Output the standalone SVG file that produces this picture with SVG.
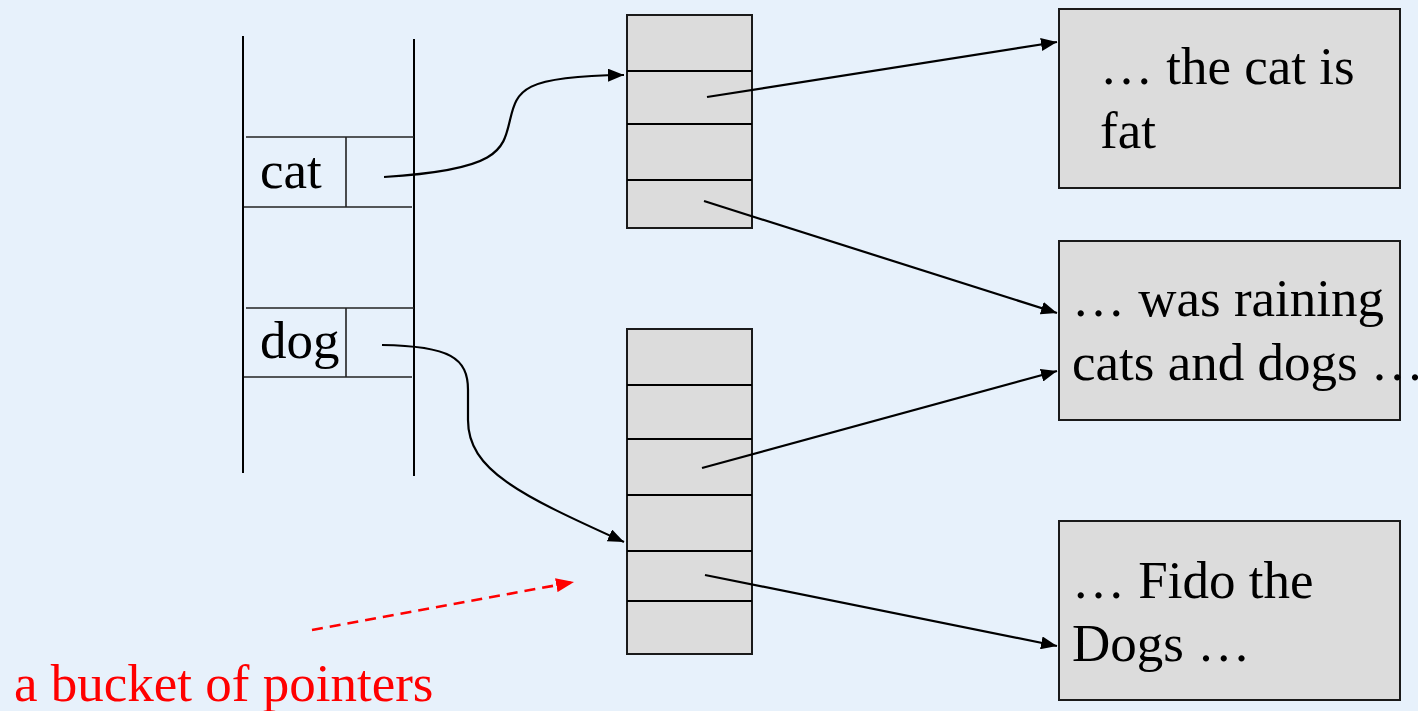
<svg xmlns="http://www.w3.org/2000/svg" width="1418" height="711" viewBox="0 0 1418 711">
<style>
.bg{fill:#E7F1FB}
.ln{stroke:#000;stroke-width:2;fill:none}
.thin{stroke:#222;stroke-width:1.6;fill:none}
.cell{fill:#DCDCDC;stroke:#1a1a1a;stroke-width:2}
.t{font-family:"Liberation Serif","Times New Roman",serif;font-size:53px;fill:#000}
.red{fill:#FF0000}
.conn{stroke:#000;stroke-width:2.2;fill:none;marker-end:url(#ah)}
.dash{stroke:#FF0000;stroke-width:2.6;fill:none;stroke-dasharray:11 7;marker-end:url(#ahr)}
</style>
<defs>
<marker id="ah" viewBox="0 0 16 13" refX="16" refY="6.5" markerWidth="16" markerHeight="13" markerUnits="userSpaceOnUse" orient="auto">
<path d="M0,0 L16,6.5 L0,13 Z" fill="#000"/>
</marker>
<marker id="ahr" viewBox="0 0 18 14" refX="18" refY="7" markerWidth="18" markerHeight="14" markerUnits="userSpaceOnUse" orient="auto">
<path d="M0,0 L18,7 L0,14 Z" fill="#FF0000"/>
</marker>
</defs>
<rect class="bg" x="0" y="0" width="1418" height="711"/>

<g id="hashtable">
<line class="ln" x1="243" y1="36" x2="243" y2="473"/>
<line class="ln" x1="414" y1="39" x2="414" y2="476"/>
<line class="thin" x1="246" y1="137" x2="414" y2="137"/>
<line class="thin" x1="244" y1="207" x2="412" y2="207"/>
<line class="thin" x1="346" y1="137" x2="346" y2="207"/>
<line class="thin" x1="246" y1="308" x2="414" y2="308"/>
<line class="thin" x1="244" y1="377" x2="412" y2="377"/>
<line class="thin" x1="346" y1="308" x2="346" y2="377"/>
<text class="t" x="260" y="188">cat</text>
<text class="t" x="260" y="358">dog</text>
</g>

<g id="bucket1">
<rect class="cell" x="627" y="15" width="125" height="213"/>
<line class="ln" x1="627" y1="71" x2="752" y2="71"/>
<line class="ln" x1="627" y1="124" x2="752" y2="124"/>
<line class="ln" x1="627" y1="180" x2="752" y2="180"/>
</g>

<g id="bucket2">
<rect class="cell" x="627" y="329" width="125" height="325"/>
<line class="ln" x1="627" y1="385" x2="752" y2="385"/>
<line class="ln" x1="627" y1="439" x2="752" y2="439"/>
<line class="ln" x1="627" y1="495" x2="752" y2="495"/>
<line class="ln" x1="627" y1="551" x2="752" y2="551"/>
<line class="ln" x1="627" y1="601" x2="752" y2="601"/>
</g>

<g id="doc1">
<rect class="cell" x="1059" y="9" width="341" height="179"/>
<text class="t" x="1100" y="84">… the cat is</text>
<text class="t" x="1100" y="148">fat</text>
</g>

<g id="doc2">
<rect class="cell" x="1059" y="241" width="341" height="179"/>
<text class="t" x="1072" y="316">… was raining</text>
<text class="t" x="1072" y="380">cats and dogs …</text>
</g>

<g id="doc3">
<rect class="cell" x="1059" y="521" width="341" height="179"/>
<text class="t" x="1072" y="598">… Fido the</text>
<text class="t" x="1072" y="661">Dogs …</text>
</g>

<g id="label">
<text class="t red" x="14" y="701">a bucket of pointers</text>
</g>

<g id="connectors">
<path class="conn" d="M384,177 C500,170 503,150 510,120 C517,90 522,76 624,75"/>
<path class="conn" d="M382,345 C450,346 468,358 468,390 L468,420 C468,470 520,495 624,542"/>
<path class="conn" d="M707,97 L1057,42"/>
<path class="conn" d="M704,201 L1057,313"/>
<path class="conn" d="M702,468 L1057,371"/>
<path class="conn" d="M705,575 L1057,646"/>
<path class="dash" d="M312,630 L574,582"/>
</g>
</svg>
